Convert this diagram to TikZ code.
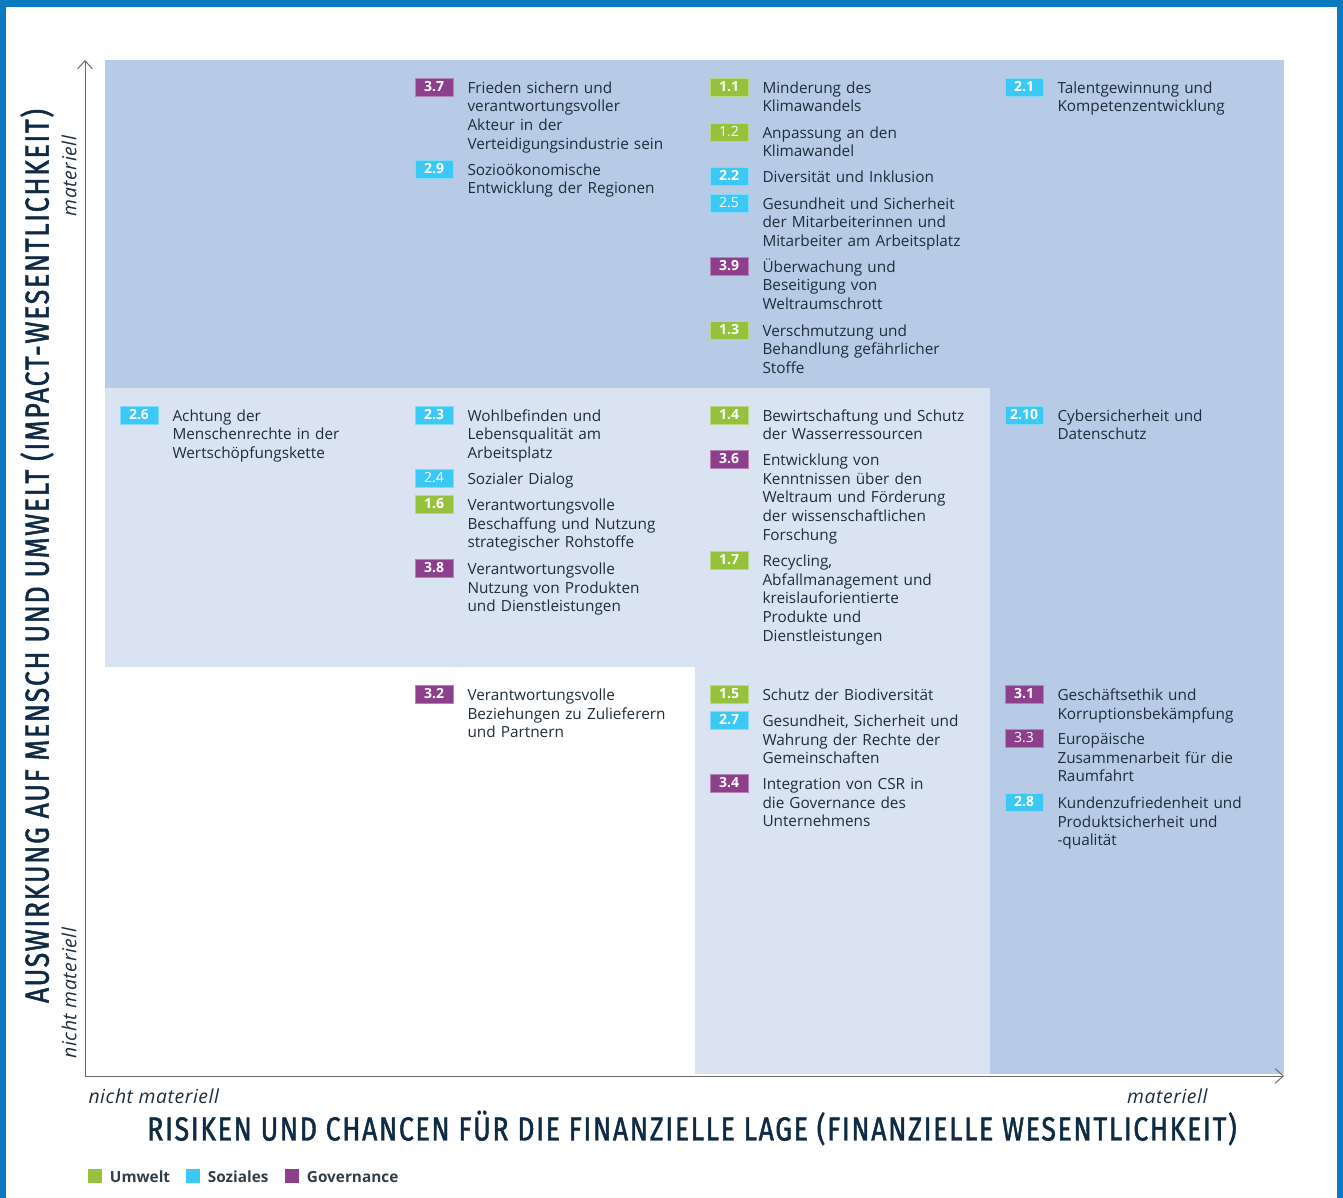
\documentclass[tikz,border=0pt]{standalone}
\usepackage{fontspec}
\setmainfont{Open Sans}
\newfontfamily\headfont[FakeStretch=0.8,FakeBold=1.4,LetterSpace=5]{Fira Sans}
\usetikzlibrary{arrows.meta}

\definecolor{framblue}{HTML}{0A7BC1}
\definecolor{darkzone}{HTML}{B7CBE6}
\definecolor{lightzone}{HTML}{DAE3F2}
\definecolor{umweltgreen}{HTML}{95C13D}
\definecolor{sozialcyan}{HTML}{3CC8F4}
\definecolor{govpurple}{HTML}{8E3F8C}
\definecolor{bodyink}{HTML}{1E2D3B}
\definecolor{headink}{HTML}{0F2A44}
\definecolor{axisgray}{HTML}{6A6A6A}

\tikzset{every picture/.style={line width=0.75pt}}
\tikzset{
  badge/.style={fill=#1, draw=#1!65!white, line width=0.6pt, text=white,
    minimum width=28.5pt, minimum height=13.5pt, inner sep=0pt,
    font=\fontsize{10.5}{12}\selectfont\bfseries},
  badgelight/.style={badge=#1, font=\fontsize{10.5}{12}\selectfont},
  topic/.style={anchor=base west, inner sep=0pt, yshift=-1pt, text width=175pt, align=left,
    text=bodyink, font=\fontsize{11.5}{14}\selectfont},
  axislabel/.style={text=bodyink, font=\fontsize{14.5}{16}\selectfont\itshape\addfontfeature{LetterSpace=3}},
  headlabel/.style={text=headink, font=\headfont\fontsize{25}{28}\selectfont},
  legendbox/.style={minimum size=10.5pt, inner sep=0pt},
  legendtext/.style={anchor=west, text=bodyink!80!gray, font=\fontsize{11.5}{13}\selectfont\bfseries}
}

\begin{document}
\begin{tikzpicture}[x=0.75pt,y=0.75pt,yscale=-1,xscale=1]
\useasboundingbox (0,0) rectangle (1343,1198);

%Frame
\fill [framblue] (0,0) rectangle (1343,7);
\fill [framblue] (0,0) rectangle (6,1198);
\fill [framblue] (1337,0) rectangle (1343,1198);

%Zones
\fill [darkzone] (105,60) rectangle (1284,388);
\fill [darkzone] (990,388) rectangle (1284,1074);
\fill [lightzone] (105,388) rectangle (990,667);
\fill [lightzone] (695,667) rectangle (990,1074);

%Axes
\coordinate (origin) at (85,1076);
\coordinate (ytop) at (85,60);
\coordinate (xend) at (1284,1076);
\draw [axisgray, -{Straight Barb[length=6pt,width=11pt]}] (origin) -- (ytop);
\draw [axisgray, -{Straight Barb[length=6pt,width=11pt]}] (origin) -- (xend);

% Axis labels
\node [headlabel, rotate=90] (ytitle) at (37,556) {AUSWIRKUNG AUF MENSCH UND UMWELT (IMPACT-WESENTLICHKEIT)};
\node [axislabel, rotate=90] (yhigh) at (69,176) {materiell};
\node [axislabel, rotate=90] (ylow) at (69,993) {nicht materiell};
\node [axislabel, anchor=west, inner sep=0pt] (xlow) at (88,1096) {nicht materiell};
\node [axislabel, anchor=east, inner sep=0pt] (xhigh) at (1208,1096) {materiell};
\node [headlabel] (xtitle) at (692,1128) {RISIKEN UND CHANCEN FÜR DIE FINANZIELLE LAGE (FINANZIELLE WESENTLICHKEIT)};

% Row 1
\node [badge=govpurple] (b37) at (434,87) {3.7};
\node [topic] (t37) at (467,92) {Frieden sichern und\\verantwortungsvoller\\Akteur in der\\Verteidigungsindustrie sein};
\node [badge=sozialcyan] (b29) at (434,169) {2.9};
\node [topic] (t29) at (467,174) {Sozioökonomische\\Entwicklung der Regionen};

\node [badge=umweltgreen] (b11) at (729,87) {1.1};
\node [topic] (t11) at (762,92) {Minderung des\\Klimawandels};
\node [badgelight=umweltgreen] (b12) at (729,132) {1.2};
\node [topic] (t12) at (762,137) {Anpassung an den\\Klimawandel};
\node [badge=sozialcyan] (b22) at (729,176) {2.2};
\node [topic] (t22) at (762,181) {Diversität und Inklusion};
\node [badgelight=sozialcyan] (b25) at (729,203) {2.5};
\node [topic] (t25) at (762,208) {Gesundheit und Sicherheit\\der Mitarbeiterinnen und\\Mitarbeiter am Arbeitsplatz};
\node [badge=govpurple] (b39) at (729,266) {3.9};
\node [topic] (t39) at (762,271) {Überwachung und\\Beseitigung von\\Weltraumschrott};
\node [badge=umweltgreen] (b13) at (729,330) {1.3};
\node [topic] (t13) at (762,335) {Verschmutzung und\\Behandlung gefährlicher\\Stoffe};

\node [badge=sozialcyan] (b21) at (1024,87) {2.1};
\node [topic] (t21) at (1057,92) {Talentgewinnung und\\Kompetenzentwicklung};

% Row 2
\node [badge=sozialcyan] (b26) at (139,415) {2.6};
\node [topic] (t26) at (172,420) {Achtung der\\Menschenrechte in der\\Wertschöpfungskette};

\node [badge=sozialcyan] (b23) at (434,415) {2.3};
\node [topic] (t23) at (467,420) {Wohlbefinden und\\Lebensqualität am\\Arbeitsplatz};
\node [badgelight=sozialcyan] (b24) at (434,478) {2.4};
\node [topic] (t24) at (467,483) {Sozialer Dialog};
\node [badge=umweltgreen] (b16) at (434,504) {1.6};
\node [topic] (t16) at (467,509) {Verantwortungsvolle\\Beschaffung und Nutzung\\strategischer Rohstoffe};
\node [badge=govpurple] (b38) at (434,568) {3.8};
\node [topic] (t38) at (467,573) {Verantwortungsvolle\\Nutzung von Produkten\\und Dienstleistungen};

\node [badge=umweltgreen] (b14) at (729,415) {1.4};
\node [topic] (t14) at (762,420) {Bewirtschaftung und Schutz\\der Wasserressourcen};
\node [badge=govpurple] (b36) at (729,459) {3.6};
\node [topic] (t36) at (762,464) {Entwicklung von\\Kenntnissen über den\\Weltraum und Förderung\\der wissenschaftlichen\\Forschung};
\node [badge=umweltgreen] (b17) at (729,560) {1.7};
\node [topic] (t17) at (762,565) {Recycling,\\Abfallmanagement und\\kreislauforientierte\\Produkte und\\Dienstleistungen};

\node [badge=sozialcyan] (b210) at (1024,415) {2.10};
\node [topic] (t210) at (1057,420) {Cybersicherheit und\\Datenschutz};

% Row 3
\node [badge=govpurple] (b32) at (434,694) {3.2};
\node [topic] (t32) at (467,699) {Verantwortungsvolle\\Beziehungen zu Zulieferern\\und Partnern};

\node [badge=umweltgreen] (b15) at (729,694) {1.5};
\node [topic] (t15) at (762,699) {Schutz der Biodiversität};
\node [badge=sozialcyan] (b27) at (729,720) {2.7};
\node [topic] (t27) at (762,725) {Gesundheit, Sicherheit und\\Wahrung der Rechte der\\Gemeinschaften};
\node [badge=govpurple] (b34) at (729,783) {3.4};
\node [topic] (t34) at (762,788) {Integration von CSR in\\die Governance des\\Unternehmens};

\node [badge=govpurple] (b31) at (1024,694) {3.1};
\node [topic] (t31) at (1057,699) {Geschäftsethik und\\Korruptionsbekämpfung};
\node [badgelight=govpurple] (b33) at (1024,738) {3.3};
\node [topic] (t33) at (1057,743) {Europäische\\Zusammenarbeit für die\\Raumfahrt};
\node [badge=sozialcyan] (b28) at (1024,802) {2.8};
\node [topic] (t28) at (1057,807) {Kundenzufriedenheit und\\Produktsicherheit und\\-qualität};

% Legend
\node [legendbox, fill=umweltgreen] (lu) at (95,1176) {};
\node [legendtext] (lut) at (105,1177) {Umwelt};
\node [legendbox, fill=sozialcyan] (ls) at (193,1176) {};
\node [legendtext] (lst) at (203,1177) {Soziales};
\node [legendbox, fill=govpurple] (lg) at (292,1176) {};
\node [legendtext] (lgt) at (302,1177) {Governance};

\end{tikzpicture}
\end{document}
